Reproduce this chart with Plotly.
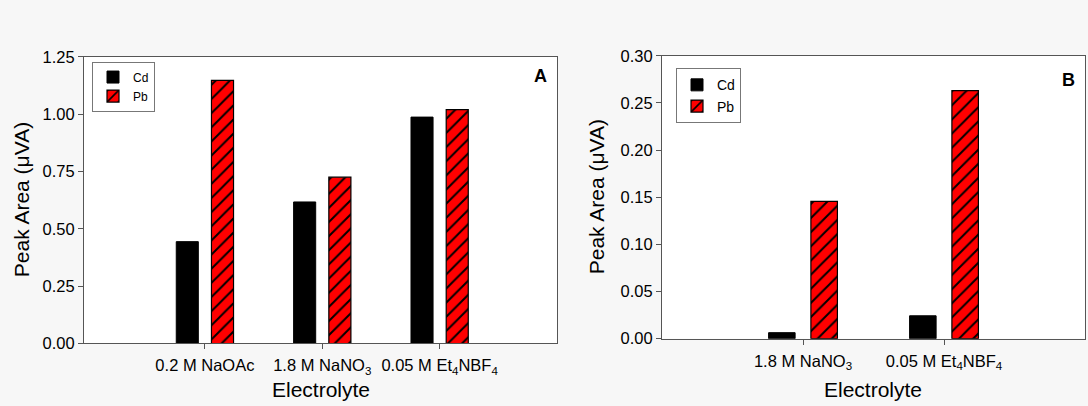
import plotly.graph_objects as go

# Panel A data
cats_a = ["0.2 M NaOAc", "1.8 M NaNO<sub>3</sub>", "0.05 M Et<sub>4</sub>NBF<sub>4</sub>"]
cd_a = [0.444, 0.617, 0.987]
pb_a = [1.147, 0.725, 1.020]

# Panel B data
cats_b = ["1.8 M NaNO<sub>3</sub>", "0.05 M Et<sub>4</sub>NBF<sub>4</sub>"]
cd_b = [0.0064, 0.0243]
pb_b = [0.1456, 0.2630]

yticks_a = [0.0, 0.25, 0.5, 0.75, 1.0, 1.25]
yticks_b = [0.0, 0.05, 0.10, 0.15, 0.20, 0.25, 0.30]

FONT = "Liberation Sans, Arial, sans-serif"
RED = "#ff0000"
LINE = "#555555"

pattern = dict(shape="/", fgcolor="black", bgcolor=RED, size=10, solidity=0.2, fillmode="replace")

fig = go.Figure()
fig.add_trace(go.Bar(x=cats_a, y=cd_a, name="Cd", xaxis="x", yaxis="y",
                     marker=dict(color="black", line=dict(color="black", width=1)),
                     legend="legend"))
fig.add_trace(go.Bar(x=cats_a, y=pb_a, name="Pb", xaxis="x", yaxis="y",
                     marker=dict(color=RED, line=dict(color="black", width=1.2), pattern=pattern),
                     legend="legend"))
fig.add_trace(go.Bar(x=cats_b, y=cd_b, name="Cd", xaxis="x2", yaxis="y2",
                     marker=dict(color="black", line=dict(color="black", width=1)),
                     legend="legend2"))
fig.add_trace(go.Bar(x=cats_b, y=pb_b, name="Pb", xaxis="x2", yaxis="y2",
                     marker=dict(color=RED, line=dict(color="black", width=1.2), pattern=pattern),
                     legend="legend2"))

W, H = 1088, 406

def px_x(v):
    return v / W

def px_y(v):
    return 1 - v / H

axis_common = dict(showline=True, linecolor=LINE, linewidth=1, mirror=True,
                   ticks="outside", ticklen=5, tickcolor=LINE, showgrid=False, zeroline=False,
                   tickfont=dict(family=FONT, size=16.5, color="#000000"))

fig.update_layout(
    width=W, height=H,
    margin=dict(l=0, r=0, t=0, b=0),
    paper_bgcolor="#f7f7f7",
    plot_bgcolor="#ffffff",
    barmode="group",
    bargap=0.4,
    bargroupgap=0.373,
    font=dict(family=FONT, color="#000000"),
    xaxis=dict(domain=[px_x(84), px_x(557)], anchor="y", type="category",
               range=[-1.03, 3.0], ticklabelstandoff=2, **axis_common),
    yaxis=dict(domain=[px_y(350), px_y(50)], anchor="x", range=[0, 1.25],
               tickvals=yticks_a, tickformat=".2f", **axis_common),
    xaxis2=dict(domain=[px_x(662), px_x(1085)], anchor="y2", type="category",
                range=[-1.0, 2.0], ticklabelstandoff=2, **axis_common),
    yaxis2=dict(domain=[px_y(345), px_y(49)], anchor="x2", range=[0, 0.30],
                tickvals=yticks_b, tickformat=".2f", **axis_common),
    legend=dict(x=px_x(92), y=px_y(55), xanchor="left", yanchor="top",
                bgcolor="#ffffff", bordercolor="#777777", borderwidth=1,
                font=dict(family=FONT, size=12, color="#000000"),
                tracegroupgap=0, itemwidth=30),
    legend2=dict(x=px_x(676), y=px_y(62), xanchor="left", yanchor="top",
                 bgcolor="#ffffff", bordercolor="#777777", borderwidth=1,
                 font=dict(family=FONT, size=14, color="#000000"),
                 tracegroupgap=0, itemwidth=30),
    showlegend=True,
)

annots = [
    dict(text="Peak Area (μVA)", x=px_x(21), y=px_y(200), textangle=-90, size=21),
    dict(text="Peak Area (μVA)", x=px_x(596), y=px_y(197), textangle=-90, size=21),
    dict(text="Electrolyte", x=px_x(321), y=px_y(398), textangle=0, size=21),
    dict(text="Electrolyte", x=px_x(873), y=px_y(398), textangle=0, size=21),
]
for a in annots:
    fig.add_annotation(text=a["text"], x=a["x"], y=a["y"], xref="paper", yref="paper",
                       xanchor="center", yanchor="middle", showarrow=False,
                       textangle=a["textangle"],
                       font=dict(family=FONT, size=a["size"], color="#000000"))

fig.add_annotation(text="<b>A</b>", x=px_x(540), y=px_y(70), xref="paper", yref="paper",
                   xanchor="center", yanchor="middle", showarrow=False,
                   font=dict(family=FONT, size=18, color="black"))
fig.add_annotation(text="<b>B</b>", x=px_x(1068), y=px_y(74), xref="paper", yref="paper",
                   xanchor="center", yanchor="middle", showarrow=False,
                   font=dict(family=FONT, size=18, color="black"))

fig.write_html("out.html")
